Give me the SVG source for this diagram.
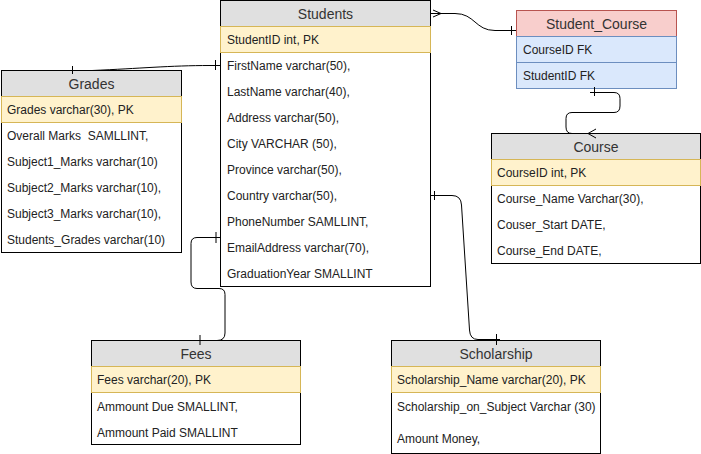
<svg xmlns="http://www.w3.org/2000/svg" width="701" height="454" viewBox="0 0 701 454">
<style>
.box{fill:#ffffff;stroke:#000000;stroke-width:1}
.hdr{fill:#e0e0e0;stroke:#000000;stroke-width:1}
.pk{fill:#fff2cc;stroke:#d6b656;stroke-width:1}
.rhdr{fill:#f8cecc;stroke:#b85450;stroke-width:1}
.blue{fill:#dae8fc;stroke:#6c8ebf;stroke-width:1}
.ht{font-family:"Liberation Sans",Arial,sans-serif;font-size:14px;fill:#333333;text-anchor:middle}
.rt{font-family:"Liberation Sans",Arial,sans-serif;font-size:12px;fill:#222222;white-space:pre}
.edge{fill:none;stroke:#000000;stroke-width:1}
</style>
<g id="students">
<rect class="box" x="220.5" y="0.5" width="210" height="286"/>
<rect class="hdr" x="220.5" y="0.5" width="210" height="26"/>
<rect class="pk" x="220.5" y="26.5" width="210" height="26"/>
<text class="ht" x="325.5" y="18.5">Students</text>
<text class="rt" x="227" y="44">StudentID int, PK</text>
<text class="rt" x="227" y="70">FirstName varchar(50),</text>
<text class="rt" x="227" y="96">LastName varchar(40),</text>
<text class="rt" x="227" y="122">Address varchar(50),</text>
<text class="rt" x="227" y="148">City VARCHAR (50),</text>
<text class="rt" x="227" y="174">Province varchar(50),</text>
<text class="rt" x="227" y="200">Country varchar(50),</text>
<text class="rt" x="227" y="226">PhoneNumber SAMLLINT,</text>
<text class="rt" x="227" y="252">EmailAddress varchar(70),</text>
<text class="rt" x="227" y="278">GraduationYear SMALLINT</text>
</g>
<g id="student_course">
<rect class="rhdr" x="516.5" y="10.5" width="160" height="26"/>
<rect class="blue" x="516.5" y="36.5" width="160" height="26"/>
<rect class="blue" x="516.5" y="62.5" width="160" height="26"/>
<text class="ht" x="596.5" y="28.5">Student_Course</text>
<text class="rt" x="523" y="54">CourseID FK</text>
<text class="rt" x="523" y="80">StudentID FK</text>
</g>
<g id="grades">
<rect class="box" x="1.5" y="70.5" width="180" height="182"/>
<rect class="hdr" x="1.5" y="70.5" width="180" height="26"/>
<rect class="pk" x="1.5" y="96.5" width="180" height="26"/>
<text class="ht" x="91.5" y="88.5">Grades</text>
<text class="rt" x="7" y="114">Grades varchar(30), PK</text>
<text class="rt" x="7" y="140" xml:space="preserve">Overall Marks  SAMLLINT,</text>
<text class="rt" x="7" y="166">Subject1_Marks varchar(10)</text>
<text class="rt" x="7" y="192">Subject2_Marks varchar(10),</text>
<text class="rt" x="7" y="218">Subject3_Marks varchar(10),</text>
<text class="rt" x="7" y="244">Students_Grades varchar(10)</text>
</g>
<g id="course">
<rect class="box" x="491.5" y="133.5" width="209" height="130"/>
<rect class="hdr" x="491.5" y="133.5" width="209" height="26"/>
<rect class="pk" x="491.5" y="159.5" width="209" height="26"/>
<text class="ht" x="596" y="151.5">Course</text>
<text class="rt" x="497" y="177">CourseID int, PK</text>
<text class="rt" x="497" y="203">Course_Name Varchar(30),</text>
<text class="rt" x="497" y="229">Couser_Start DATE,</text>
<text class="rt" x="497" y="255">Course_End DATE,</text>
</g>
<g id="fees">
<rect class="box" x="91.5" y="340.5" width="209" height="104"/>
<rect class="hdr" x="91.5" y="340.5" width="209" height="26"/>
<rect class="pk" x="91.5" y="366.5" width="209" height="26"/>
<text class="ht" x="196" y="358.5">Fees</text>
<text class="rt" x="97" y="384">Fees varchar(20), PK</text>
<text class="rt" x="97" y="411">Ammount Due SMALLINT,</text>
<text class="rt" x="97" y="437">Ammount Paid SMALLINT</text>
</g>
<g id="scholarship">
<rect class="box" x="391.5" y="340.5" width="209" height="113"/>
<rect class="hdr" x="391.5" y="340.5" width="209" height="26"/>
<rect class="pk" x="391.5" y="366.5" width="209" height="26"/>
<text class="ht" x="496" y="358.5">Scholarship</text>
<text class="rt" x="397" y="384">Scholarship_Name varchar(20), PK</text>
<text class="rt" x="397" y="411">Scholarship_on_Subject Varchar (30)</text>
<text class="rt" x="397" y="443">Amount Money,</text>
</g>
<g id="connectors">
<path class="edge" d="M431,13.5 L455,13.5 C475,13.5 475,30.5 495,30.5 L516,30.5"/>
<path class="edge" d="M433,10 L441,13.5 L433,17"/>
<path class="edge" d="M511.5,26 L511.5,35"/>
<path class="edge" d="M590,92.5 L614,92.5 Q620,92.5 620,98.5 L620,106 Q620,112.5 614,112.5 L572,112.5 Q566,112.5 566,118.5 L566,127 Q566,133.5 572,133.5 L596,133.5"/>
<path class="edge" d="M594.5,87 L594.5,96"/>
<path class="edge" d="M596,129 L588,133.5 L596,138"/>
<path class="edge" d="M72,70.5 L92,70.5 C140,68.5 170,65.5 210,65.5 L220,65.5"/>
<path class="edge" d="M72.5,66 L72.5,74"/>
<path class="edge" d="M215.5,60 L215.5,70"/>
<path class="edge" d="M220,237.5 L197,237.5 Q191,237.5 191,243.5 L191,282 Q191,288.5 197,288.5 L219,288.5 Q225,288.5 225,294.5 L225,333 Q225,340.5 217,340.5 L196,340.5"/>
<path class="edge" d="M216,232 L216,243"/>
<path class="edge" d="M200,335 L200,345"/>
<path class="edge" d="M430,195.5 L452,195.5 Q461,195.5 461.5,205 L469.5,330 Q470,339.5 478,339.5 L500,339.5"/>
<path class="edge" d="M434.5,191 L434.5,200"/>
<path class="edge" d="M496.5,334 L496.5,345"/>
</g>
</svg>
